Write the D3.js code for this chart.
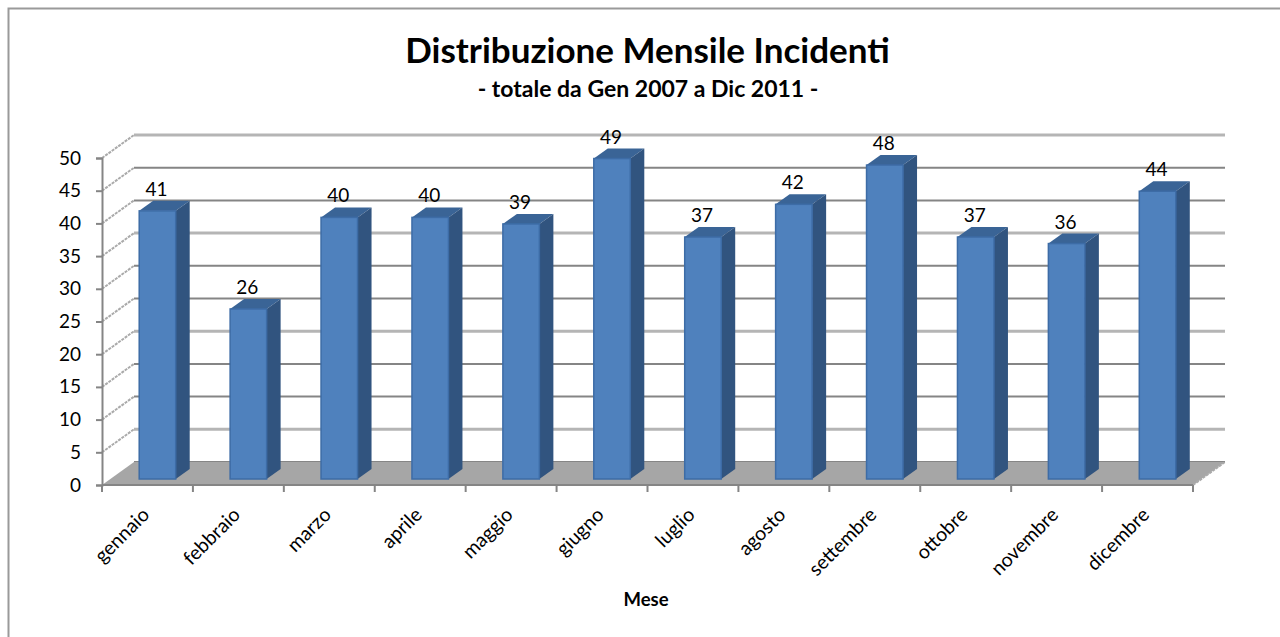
<!DOCTYPE html>
<html>
<head>
<meta charset="utf-8">
<title>Distribuzione Mensile Incidenti</title>
<script src="https://cdn.jsdelivr.net/npm/d3@7"></script>
<style>
  html, body { margin: 0; padding: 0; background: #fff; }
  svg { display: block; }
  text { font-family: Lato, "Open Sans", sans-serif; fill: #000; }
  .axis text { font-size: 19px; }
  .axis .month { font-size: 19.5px; }
  .title { font-size: 35px; font-weight: bold; }
  .subtitle { font-size: 23px; font-weight: bold; }
  .axis-title { font-size: 18.5px; font-weight: bold; }
  .bar-label { font-size: 19px; }
</style>
</head>
<body>
<div id="svg"></div>
<script>
/* Distribuzione mensile incidenti, colonne 3D */

let months = ["gennaio", "febbraio", "marzo", "aprile", "maggio", "giugno", "luglio",
              "agosto", "settembre", "ottobre", "novembre", "dicembre"];
let incidents = [41, 26, 40, 40, 39, 49, 37, 42, 48, 37, 36, 44];
let yTicks = [0, 5, 10, 15, 20, 25, 30, 35, 40, 45, 50];

function makeGraph() {
  let w = 1280, h = 637;

  let svg = d3.select("#svg")
              .append("svg")
              .attr("width", w)
              .attr("height", h);

  // chart frame runs off the right and bottom of the picture
  svg.append("path")
     .attr("d", "M8.5,637V8.5H1280")
     .attr("fill", "none")
     .attr("stroke", "#9a9a9a")
     .attr("stroke-width", 2);

  let x = d3.scaleBand().domain(months).range([102, 1193]);
  let y = d3.scaleLinear().domain([0, 50]).range([485, 158]);

  // offsets of the fake 3D
  let wallX = 32, wallY = -23;
  let barX = 10, barY = -6, barW = 36.5, sideX = 14, sideY = -10;

  // back wall gridlines
  svg.append("g")
     .selectAll("line")
     .data(yTicks)
     .enter()
     .append("line")
     .attr("x1", x.range()[0] + wallX)
     .attr("x2", x.range()[1] + wallX)
     .attr("y1", d => y(d) + wallY)
     .attr("y2", d => y(d) + wallY)
     .attr("stroke", d => (50 - d) % 15 == 0 ? "#b5b5b5" : "#858585")
     .attr("stroke-width", d => (50 - d) % 15 == 0 ? 3 : 2);

  // side wall lines
  svg.append("g")
     .selectAll("line")
     .data(yTicks.slice(1))
     .enter()
     .append("line")
     .attr("x1", x.range()[0])
     .attr("x2", x.range()[0] + wallX)
     .attr("y1", d => y(d))
     .attr("y2", d => y(d) + wallY)
     .attr("stroke", "#aaaaaa")
     .attr("stroke-width", 2)
     .attr("stroke-dasharray", "3 1");

  // floor
  let x0 = x.range()[0], x1 = x.range()[1], y0 = y(0);
  svg.append("polygon")
     .attr("points", [[x0, y0], [x1, y0], [x1 + wallX, y0 + wallY], [x0 + wallX, y0 + wallY]].join(" "))
     .attr("fill", "#a6a6a6");
  svg.append("line")
     .attr("x1", x1).attr("y1", y0)
     .attr("x2", x1 + wallX).attr("y2", y0 + wallY)
     .attr("stroke", "#aaaaaa")
     .attr("stroke-width", 2)
     .attr("stroke-dasharray", "3 1");

  // bars
  let bars = svg.append("g")
     .selectAll("g")
     .data(months)
     .enter()
     .append("g")
     .attr("transform", d => `translate(${x(d) + x.bandwidth() / 2 + barX - barW / 2}, 0)`);

  let valueOf = d => incidents[months.indexOf(d)];

  bars.append("polygon")   // top
     .attr("points", d => {
       let t = y(valueOf(d)) + barY;
       return [[0, t], [barW, t], [barW + sideX, t + sideY], [sideX, t + sideY]].join(" ");
     })
     .attr("fill", "#3a6496");

  bars.append("polygon")   // side
     .attr("points", d => {
       let t = y(valueOf(d)) + barY, b = y(0) + barY;
       return [[barW, t], [barW + sideX, t + sideY], [barW + sideX, b + sideY], [barW, b]].join(" ");
     })
     .attr("fill", "#31547f");

  bars.append("rect")      // front
     .attr("x", 0)
     .attr("y", d => y(valueOf(d)) + barY)
     .attr("width", barW)
     .attr("height", d => y(0) - y(valueOf(d)))
     .attr("fill", "#4f81bd")
     .attr("stroke", "#3d6ca6")
     .attr("stroke-width", 1.5);

  svg.append("g")
     .selectAll("text")
     .data(months)
     .enter()
     .append("text")
     .classed("bar-label", true)
     .attr("x", d => x(d) + x.bandwidth() / 2 + barX - 1)
     .attr("y", d => y(valueOf(d)) + barY + sideY - 5)
     .attr("text-anchor", "middle")
     .text(valueOf);

  // axes
  let yAxis = d3.axisLeft(y).tickValues(yTicks).tickSize(6).tickPadding(15);
  let gy = svg.append("g")
     .classed("axis", true)
     .attr("transform", `translate(${x0}, 0)`)
     .call(yAxis);

  let tickPos = months.map(d => x(d)).concat(x1);
  let gx = svg.append("g")
     .classed("axis", true)
     .attr("transform", `translate(0, ${y0})`);
  gx.selectAll("line.tick")
     .data(tickPos)
     .enter()
     .append("line")
     .classed("tick", true)
     .attr("x1", d => d).attr("x2", d => d)
     .attr("y1", 0).attr("y2", 7);
  gx.append("line")
     .classed("tick", true)
     .attr("x1", x0).attr("x2", x1)
     .attr("y1", 0).attr("y2", 0);
  gx.selectAll("text")
     .data(months)
     .enter()
     .append("text")
     .classed("month", true)
     .attr("text-anchor", "end")
     .attr("transform", d => `translate(${x(d) + x.bandwidth() / 2 + 3}, 31) rotate(-45)`)
     .text(d => d);

  svg.selectAll(".axis path, .axis line")
     .attr("stroke", "#858585")
     .attr("stroke-width", 2)
     .attr("fill", "none");
  gy.selectAll("text").attr("fill", "#000");

  // titles
  svg.append("text")
     .classed("title", true)
     .attr("x", 647.5).attr("y", 63)
     .attr("text-anchor", "middle")
     .text("Distribuzione Mensile Incidenti");
  svg.append("text")
     .classed("subtitle", true)
     .attr("x", 648).attr("y", 97)
     .attr("text-anchor", "middle")
     .text("- totale da Gen 2007 a Dic 2011 -");
  svg.append("text")
     .classed("axis-title", true)
     .attr("x", 646).attr("y", 606)
     .attr("text-anchor", "middle")
     .text("Mese");
}

window.onload = function() {
  makeGraph();
};
</script>
</body>
</html>
